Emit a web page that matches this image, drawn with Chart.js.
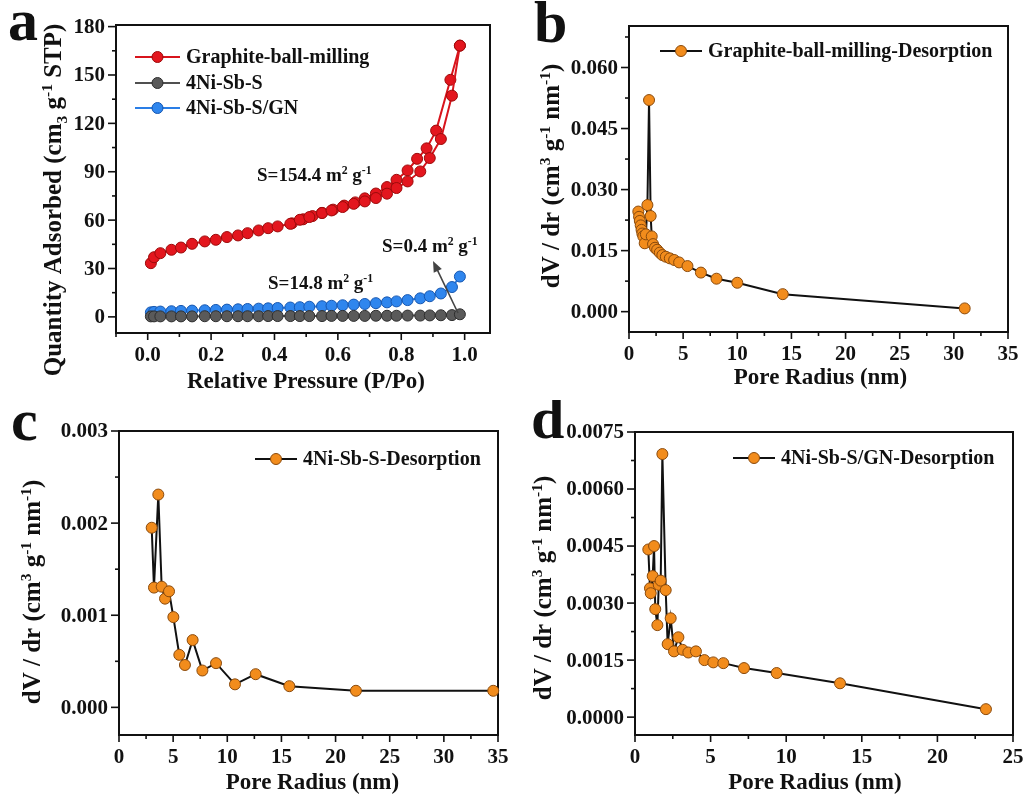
<!DOCTYPE html>
<html>
<head>
<meta charset="utf-8">
<script src="https://cdn.jsdelivr.net/npm/chart.js@4.4.0/dist/chart.umd.min.js"></script>
<style>
  body { margin: 0; background: #fff; width: 1025px; height: 796px; position: relative; overflow: hidden; }
  .p { position: absolute; }
</style>
</head>
<body>
<div class="p" style="left:0;top:0"><canvas id="ca" width="500" height="400"></canvas></div>
<div class="p" style="left:510px;top:0"><canvas id="cb" width="515" height="400"></canvas></div>
<div class="p" style="left:0;top:400px"><canvas id="cc" width="510" height="396"></canvas></div>
<div class="p" style="left:510px;top:400px"><canvas id="cd" width="515" height="396"></canvas></div>
<script>
// ---- panel a : N2 isotherms ----
const gbAdsX = [0.01,0.02,0.04,0.075,0.105,0.14,0.18,0.215,0.25,0.285,0.315,0.35,0.38,0.41,0.45,0.48,0.51,0.55,0.58,0.615,0.65,0.685,0.72,0.755,0.785,0.82,0.86,0.89,0.925,0.96,0.985];
const gbAds  = [33.3,37.0,39.5,41.6,43.0,45.3,46.8,47.8,49.5,50.5,51.9,53.6,55.0,56.1,57.7,60.2,61.9,64.4,66.0,68.1,70.1,71.6,73.7,76.4,79.9,84.0,90.2,98.5,110.3,137.2,168.2];
const gbDesX = [0.985,0.955,0.91,0.88,0.85,0.82,0.785,0.755,0.72,0.685,0.655,0.62,0.585,0.55,0.52,0.49,0.455];
const gbDes  = [168.2,147.0,115.5,104.5,98.0,90.8,85.0,80.5,76.5,73.5,71.0,69.0,66.5,64.5,62.5,60.5,58.0];
const nsX = [0.01,0.02,0.04,0.075,0.105,0.14,0.18,0.215,0.25,0.285,0.315,0.35,0.38,0.41,0.45,0.48,0.51,0.55,0.58,0.615,0.65,0.685,0.72,0.755,0.785,0.82,0.86,0.89,0.925,0.96,0.985];
const nsY = [0.3,0.3,0.3,0.3,0.3,0.3,0.4,0.4,0.4,0.4,0.4,0.4,0.5,0.5,0.5,0.5,0.5,0.5,0.6,0.6,0.6,0.6,0.7,0.7,0.7,0.8,0.8,0.9,1.0,1.1,1.6];
const gnY = [2.8,3.1,3.3,3.5,3.7,3.9,4.1,4.3,4.5,4.7,4.9,5.1,5.3,5.5,5.8,6.0,6.3,6.6,6.9,7.2,7.6,8.0,8.5,9.0,9.6,10.4,11.5,12.8,14.5,18.5,25.0];
const aXTicks = [0, 0.2, 0.4, 0.6, 0.8, 1.0];
const aYTicks = [0, 30, 60, 90, 120, 150, 180];

// ---- panel b : graphite pore size ----
const bX = [0.86,0.93,1.0,1.08,1.16,1.23,1.32,1.45,1.56,1.7,1.85,2.0,2.1,2.22,2.4,2.6,2.84,3.08,3.4,3.77,4.17,4.63,5.4,6.64,8.08,10.0,14.2,31.0];
const bY = [0.0246,0.0233,0.0223,0.0212,0.0201,0.0192,0.0185,0.0168,0.0190,0.0262,0.0520,0.0235,0.0185,0.0166,0.0157,0.0152,0.0145,0.0139,0.0135,0.0131,0.0127,0.0121,0.0112,0.0096,0.0081,0.0071,0.0043,0.0008];
const bYTicks = [0, 0.015, 0.030, 0.045, 0.060];

// ---- panel c : 4Ni-Sb-S pore size ----
const cX = [3.02,3.23,3.63,3.94,4.25,4.62,5.02,5.57,6.09,6.8,7.7,8.96,10.71,12.62,15.73,21.88,34.56];
const cY = [0.00195,0.00130,0.00231,0.00131,0.00118,0.00126,0.00098,0.00057,0.00046,0.00073,0.00040,0.00048,0.00025,0.00036,0.00023,0.00018,0.00018];
const cYTicks = [0, 0.001, 0.002, 0.003];

// ---- panel d : 4Ni-Sb-S/GN pore size ----
const dX = [0.88,0.99,1.04,1.17,1.26,1.34,1.48,1.57,1.7,1.81,2.03,2.16,2.36,2.58,2.87,3.15,3.53,4.03,4.59,5.18,5.84,7.21,9.37,13.56,23.21];
const dY = [0.00441,0.00339,0.00326,0.00371,0.00450,0.00284,0.00242,0.00348,0.00359,0.00692,0.00334,0.00192,0.00260,0.00173,0.00210,0.00177,0.00170,0.00173,0.00150,0.00144,0.00142,0.00129,0.00116,0.00089,0.00021];
const dYTicks = [0, 0.0015, 0.0030, 0.0045, 0.0060, 0.0075];

const poreTicks35 = [0, 5, 10, 15, 20, 25, 30, 35];
const poreTicks25 = [0, 5, 10, 15, 20, 25];

const FONT = '"Liberation Serif", "Times New Roman", serif';
const INK = '#111';

const pts = (xs, ys) => xs.map((x, i) => ({ x: x, y: ys[i] }));

function series(xs, ys, line, fill, edge) {
  return {
    data: pts(xs, ys), showLine: true, tension: 0, clip: false,
    borderColor: line, borderWidth: 2,
    pointRadius: 5.5, pointBackgroundColor: fill, pointBorderColor: edge, pointBorderWidth: 1
  };
}
const orange = (xs, ys) => series(xs, ys, '#111', '#f28c1c', '#8a4a0c');

function richW(ctx, parts, size) {
  let w = 0;
  parts.forEach(p => {
    ctx.font = 'bold ' + (p[1] ? size * 0.62 : size) + 'px ' + FONT;
    w += ctx.measureText(p[0]).width;
  });
  return w;
}
function rich(ctx, parts, x, y, size, angle, align) {
  ctx.save();
  ctx.translate(x, y);
  ctx.rotate(angle || 0);
  let cx = align === 'center' ? -richW(ctx, parts, size) / 2 : 0;
  ctx.textAlign = 'left';
  ctx.textBaseline = 'alphabetic';
  ctx.fillStyle = INK;
  parts.forEach(p => {
    ctx.font = 'bold ' + (p[1] ? size * 0.62 : size) + 'px ' + FONT;
    const dy = p[1] === 'sup' ? -size * 0.38 : (p[1] === 'sub' ? size * 0.22 : 0);
    ctx.fillText(p[0], cx, dy);
    cx += ctx.measureText(p[0]).width;
  });
  ctx.restore();
}

function line(ctx, x1, y1, x2, y2) {
  ctx.beginPath(); ctx.moveTo(x1, y1); ctx.lineTo(x2, y2); ctx.stroke();
}

const deco = {
  id: 'deco',
  beforeDatasetsDraw(chart, args, o) {
    const { ctx, chartArea: a } = chart;
    const sx = chart.scales.x, sy = chart.scales.y;
    ctx.save();
    ctx.strokeStyle = INK;
    ctx.lineWidth = 2;
    ctx.strokeRect(a.left, a.top, a.right - a.left, a.bottom - a.top);
    ctx.lineWidth = 1.6;
    const near = (v, list) => list.some(t => Math.abs(t.value - v) < 1e-9);
    // major ticks + labels, drawn outward like the original
    ctx.fillStyle = INK;
    ctx.font = 'bold 21px ' + FONT;
    ctx.textBaseline = 'middle';
    ctx.textAlign = 'center';
    sx.ticks.forEach(t => {
      const px = sx.getPixelForValue(t.value);
      line(ctx, px, a.bottom, px, a.bottom + 7);
      ctx.fillText(o.xFmt(t.value), px, a.bottom + 23);
    });
    ctx.textAlign = 'right';
    sy.ticks.forEach(t => {
      const py = sy.getPixelForValue(t.value);
      line(ctx, a.left, py, a.left - 8, py);
      ctx.fillText(o.yFmt(t.value), a.left - 11, py + 1);
    });
    // minor ticks
    for (let k = Math.ceil(sx.min / o.mx - 1e-9); k * o.mx <= sx.max + 1e-9; k++) {
      const v = k * o.mx;
      if (near(v, sx.ticks)) continue;
      const px = sx.getPixelForValue(v);
      line(ctx, px, a.bottom, px, a.bottom + 4);
    }
    for (let k = Math.ceil(sy.min / o.my - 1e-9); k * o.my <= sy.max + 1e-9; k++) {
      const v = k * o.my;
      if (near(v, sy.ticks)) continue;
      const py = sy.getPixelForValue(v);
      line(ctx, a.left, py, a.left - 4, py);
    }
    ctx.restore();
  },
  afterDraw(chart, args, o) {
    const { ctx, chartArea: a } = chart;
    ctx.save();
    // panel letter
    ctx.fillStyle = INK;
    ctx.font = 'bold 60px ' + FONT;
    ctx.textAlign = 'left';
    ctx.textBaseline = 'alphabetic';
    ctx.fillText(o.letter[0], o.letter[1], o.letter[2]);
    // axis titles
    rich(ctx, o.xTitle, (a.left + a.right) / 2 + o.xTitleDx, o.xTitleY, 23, 0, 'center');
    rich(ctx, o.yTitle, o.yTitleX, o.yTitleY, 25, -Math.PI / 2, 'center');
    // legend
    o.legend.forEach(it => {
      const ds = chart.data.datasets[it.ds];
      ctx.strokeStyle = ds.borderColor;
      ctx.lineWidth = 2;
      line(ctx, it.x1, it.y, it.x2, it.y);
      ctx.beginPath();
      ctx.arc((it.x1 + it.x2) / 2, it.y, 5.5, 0, Math.PI * 2);
      ctx.fillStyle = ds.pointBackgroundColor;
      ctx.fill();
      ctx.lineWidth = 1;
      ctx.strokeStyle = ds.pointBorderColor;
      ctx.stroke();
      ctx.fillStyle = INK;
      ctx.font = 'bold 20px ' + FONT;
      ctx.textBaseline = 'middle';
      ctx.fillText(it.label, it.x2 + 6, it.y + 1);
    });
    // notes
    (o.notes || []).forEach(n => rich(ctx, n.parts, n.x, n.y, 19, 0, 'left'));
    if (o.arrow) {
      const [x1, y1, x2, y2] = o.arrow;
      ctx.strokeStyle = '#444'; ctx.fillStyle = '#444'; ctx.lineWidth = 1.6;
      const ang = Math.atan2(y2 - y1, x2 - x1);
      line(ctx, x1, y1, x2 - 8 * Math.cos(ang), y2 - 8 * Math.sin(ang));
      ctx.beginPath();
      ctx.moveTo(x2, y2);
      ctx.lineTo(x2 - 11 * Math.cos(ang) + 4.5 * Math.sin(ang), y2 - 11 * Math.sin(ang) - 4.5 * Math.cos(ang));
      ctx.lineTo(x2 - 11 * Math.cos(ang) - 4.5 * Math.sin(ang), y2 - 11 * Math.sin(ang) + 4.5 * Math.cos(ang));
      ctx.closePath();
      ctx.fill();
    }
    ctx.restore();
  }
};

function axis(min, max, ticks, fit) {
  return {
    type: 'linear', min: min, max: max,
    grid: { display: false }, border: { display: false },
    afterBuildTicks: s => { s.ticks = ticks.map(v => ({ value: v })); },
    afterFit: fit,
    ticks: { display: false }
  };
}

function panel(id, o) {
  o.deco.xFmt = o.xFmt;
  o.deco.yFmt = o.yFmt;
  return new Chart(document.getElementById(id), {
    type: 'line',
    data: { datasets: o.datasets },
    options: {
      responsive: false, animation: false, devicePixelRatio: 1,
      layout: { padding: { top: o.top, right: o.right, left: 0, bottom: 0 } },
      plugins: { legend: { display: false }, tooltip: { enabled: false }, deco: o.deco },
      scales: {
        x: axis(o.x[0], o.x[1], o.xTicks, s => { s.height = o.xH; }),
        y: axis(o.y[0], o.y[1], o.yTicks, s => { s.width = o.yW; })
      }
    },
    plugins: [deco]
  });
}

const dvdr = [['dV / dr (cm'], ['3', 'sup'], [' g'], ['-1', 'sup'], [' nm'], ['-1', 'sup'], [')']];
const poreTitle = [['Pore Radius (nm)']];

panel('ca', {
  datasets: [
    series(gbAdsX, gbAds, '#d8141c', '#e3161e', '#9c0a0a'),
    series(nsX, nsY, '#505050', '#5a5a5a', '#2e2e2e'),
    series(nsX, gnY, '#2a7ee6', '#2f86ee', '#1556b0'),
    series(gbDesX, gbDes, '#d8141c', '#e3161e', '#9c0a0a')
  ],
  x: [-0.1, 1.08], y: [-10, 181], xTicks: aXTicks, yTicks: aYTicks,
  xFmt: v => v.toFixed(1), yFmt: v => String(v),
  top: 25, right: 10, xH: 67, yW: 116,
  deco: {
    mx: 0.1, my: 15, letter: ['a', 8, 40],
    xTitle: [['Relative Pressure (P/Po)']], xTitleDx: 3, xTitleY: 388,
    yTitle: [['Quantity Adsorbed (cm'], ['3', 'sub'], [' g'], ['-1', 'sup'], [' STP)']], yTitleX: 61, yTitleY: 200,
    legend: [
      { ds: 0, label: 'Graphite-ball-milling', x1: 135, x2: 180, y: 57 },
      { ds: 1, label: '4Ni-Sb-S', x1: 135, x2: 180, y: 83 },
      { ds: 2, label: '4Ni-Sb-S/GN', x1: 135, x2: 180, y: 108 }
    ],
    notes: [
      { parts: [['S=154.4 m'], ['2', 'sup'], [' g'], ['-1', 'sup']], x: 257, y: 181 },
      { parts: [['S=14.8 m'], ['2', 'sup'], [' g'], ['-1', 'sup']], x: 268, y: 289 },
      { parts: [['S=0.4 m'], ['2', 'sup'], [' g'], ['-1', 'sup']], x: 382, y: 252 }
    ],
    arrow: [458, 313, 433, 261]
  }
});

panel('cb', {
  datasets: [orange(bX, bY)],
  x: [0, 35], y: [-0.005, 0.0702], xTicks: poreTicks35, yTicks: bYTicks,
  xFmt: v => String(v), yFmt: v => v.toFixed(3),
  top: 26, right: 17, xH: 68, yW: 119,
  deco: {
    mx: 2.5, my: 0.0075, letter: ['b', 24, 42],
    xTitle: poreTitle, xTitleDx: 2, xTitleY: 384,
    yTitle: dvdr, yTitleX: 49, yTitleY: 176,
    legend: [{ ds: 0, label: 'Graphite-ball-milling-Desorption', x1: 150, x2: 192, y: 51 }]
  }
});

panel('cc', {
  datasets: [orange(cX, cY)],
  x: [0, 35], y: [-0.0003, 0.003], xTicks: poreTicks35, yTicks: cYTicks,
  xFmt: v => String(v), yFmt: v => v.toFixed(3),
  top: 31, right: 12, xH: 61, yW: 119,
  deco: {
    mx: 2.5, my: 0.0005, letter: ['c', 11, 40],
    xTitle: poreTitle, xTitleDx: 4, xTitleY: 389,
    yTitle: dvdr, yTitleX: 40, yTitleY: 192,
    legend: [{ ds: 0, label: '4Ni-Sb-S-Desorption', x1: 255, x2: 297, y: 59 }]
  }
});

panel('cd', {
  datasets: [orange(dX, dY)],
  x: [0, 25], y: [-0.00047, 0.0075], xTicks: poreTicks25, yTicks: dYTicks,
  xFmt: v => String(v), yFmt: v => v.toFixed(4),
  top: 32, right: 12, xH: 61, yW: 125,
  deco: {
    mx: 2.5, my: 0.00075, letter: ['d', 21, 38],
    xTitle: poreTitle, xTitleDx: -9, xTitleY: 389,
    yTitle: dvdr, yTitleX: 41, yTitleY: 188,
    legend: [{ ds: 0, label: '4Ni-Sb-S/GN-Desorption', x1: 223, x2: 265, y: 58 }]
  }
});
</script>
</body>
</html>
